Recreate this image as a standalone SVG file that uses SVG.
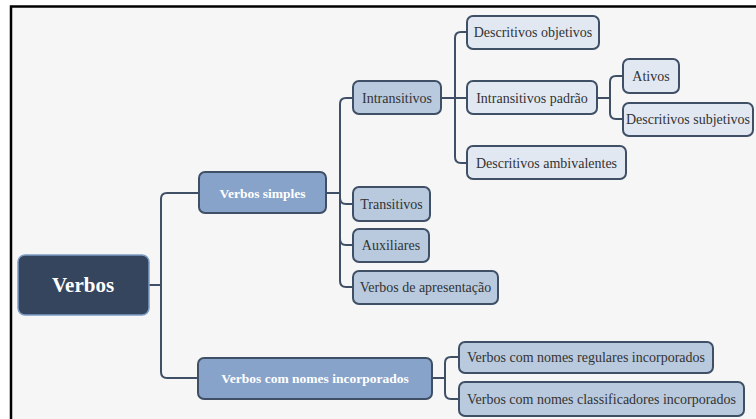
<svg xmlns="http://www.w3.org/2000/svg" width="756" height="419" viewBox="0 0 756 419">
<style>
.box{stroke:#3e4f66;stroke-width:2}
.l1{fill:#87a3c9}
.l2{fill:#b9cade}
.l3{fill:#e1e8f2}
text{font-family:'Liberation Serif','Times New Roman',Times,'DejaVu Serif',serif}
.t{font-size:14px;fill:#333;text-anchor:middle}
.tb{font-size:13.5px;font-weight:bold;fill:#fff;text-anchor:middle}
#connectors path{fill:none;stroke:#3e4f66;stroke-width:2}
</style>
<rect x="0" y="0" width="756" height="419" fill="#fff"/>
<rect x="11" y="6.5" width="770" height="430" fill="#f6f6f6" stroke="#000" stroke-width="2.5"/>
<g id="connectors">
<path d="M149,285 H161"/>
<path d="M161,285 V199 Q161,193 167,193 H199"/>
<path d="M161,285 V372 Q161,378 167,378 H198"/>
<path d="M326,193 H340"/>
<path d="M340,193 V104 Q340,98 346,98 H353"/>
<path d="M340,193 V198 Q340,204 346,204 H353"/>
<path d="M340,193 V239 Q340,245 346,245 H353"/>
<path d="M340,193 V281 Q340,287 346,287 H353"/>
<path d="M441,98 H467"/>
<path d="M455,98 V38 Q455,32 461,32 H467"/>
<path d="M455,98 V157 Q455,163 461,163 H467"/>
<path d="M597,98 H610"/>
<path d="M610,98 V82 Q610,76 616,76 H623"/>
<path d="M610,98 V113 Q610,119 616,119 H623"/>
<path d="M432,378 H445"/>
<path d="M445,378 V363 Q445,357 451,357 H459"/>
<path d="M445,378 V393 Q445,399 451,399 H459"/>
</g>
<g id="root">
<rect x="18" y="255" width="131" height="60" rx="7" fill="#34455d" stroke="#7d9cc5" stroke-width="1.5"/>
<text x="83" y="292" font-size="21" font-weight="bold" fill="#fff" text-anchor="middle">Verbos</text>
</g>
<g id="verbos-simples">
<rect class="box l1" x="199" y="172" width="127" height="41" rx="6"/>
<text class="tb" x="262.5" y="197.5">Verbos simples</text>
</g>
<g id="verbos-com-nomes">
<rect class="box l1" x="198" y="358" width="234" height="41" rx="6"/>
<text class="tb" x="315" y="383">Verbos com nomes incorporados</text>
</g>
<g id="intransitivos">
<rect class="box l2" x="353" y="81" width="88" height="33" rx="6"/>
<text class="t" x="397" y="103">Intransitivos</text>
</g>
<g id="transitivos">
<rect class="box l2" x="353" y="187" width="77" height="34" rx="6"/>
<text class="t" x="391.5" y="209">Transitivos</text>
</g>
<g id="auxiliares">
<rect class="box l2" x="353" y="229" width="76" height="33" rx="6"/>
<text class="t" x="391" y="250">Auxiliares</text>
</g>
<g id="apresentacao">
<rect class="box l2" x="353" y="271" width="145" height="33" rx="6"/>
<text class="t" x="425.5" y="292">Verbos de apresentação</text>
</g>
<g id="descritivos-objetivos">
<rect class="box l3" x="467" y="16" width="132" height="33" rx="6"/>
<text class="t" x="533" y="37">Descritivos objetivos</text>
</g>
<g id="intransitivos-padrao">
<rect class="box l3" x="467" y="81" width="130" height="33" rx="6"/>
<text class="t" x="532" y="103">Intransitivos padrão</text>
</g>
<g id="descritivos-ambivalentes">
<rect class="box l3" x="467" y="146" width="159" height="33" rx="6"/>
<text class="t" x="546.5" y="168">Descritivos ambivalentes</text>
</g>
<g id="ativos">
<rect class="box l3" x="623" y="59" width="56" height="34" rx="6"/>
<text class="t" x="651" y="81">Ativos</text>
</g>
<g id="descritivos-subjetivos">
<rect class="box l3" x="623" y="103" width="130" height="33" rx="6"/>
<text class="t" x="688" y="124">Descritivos subjetivos</text>
</g>
<g id="regulares">
<rect class="box l2" x="459" y="342" width="254" height="31" rx="6"/>
<text class="t" x="586" y="362">Verbos com nomes regulares incorporados</text>
</g>
<g id="classificadores">
<rect class="box l2" x="459" y="382" width="285" height="34" rx="6"/>
<text class="t" x="601.5" y="404">Verbos com nomes classificadores incorporados</text>
</g>
</svg>
